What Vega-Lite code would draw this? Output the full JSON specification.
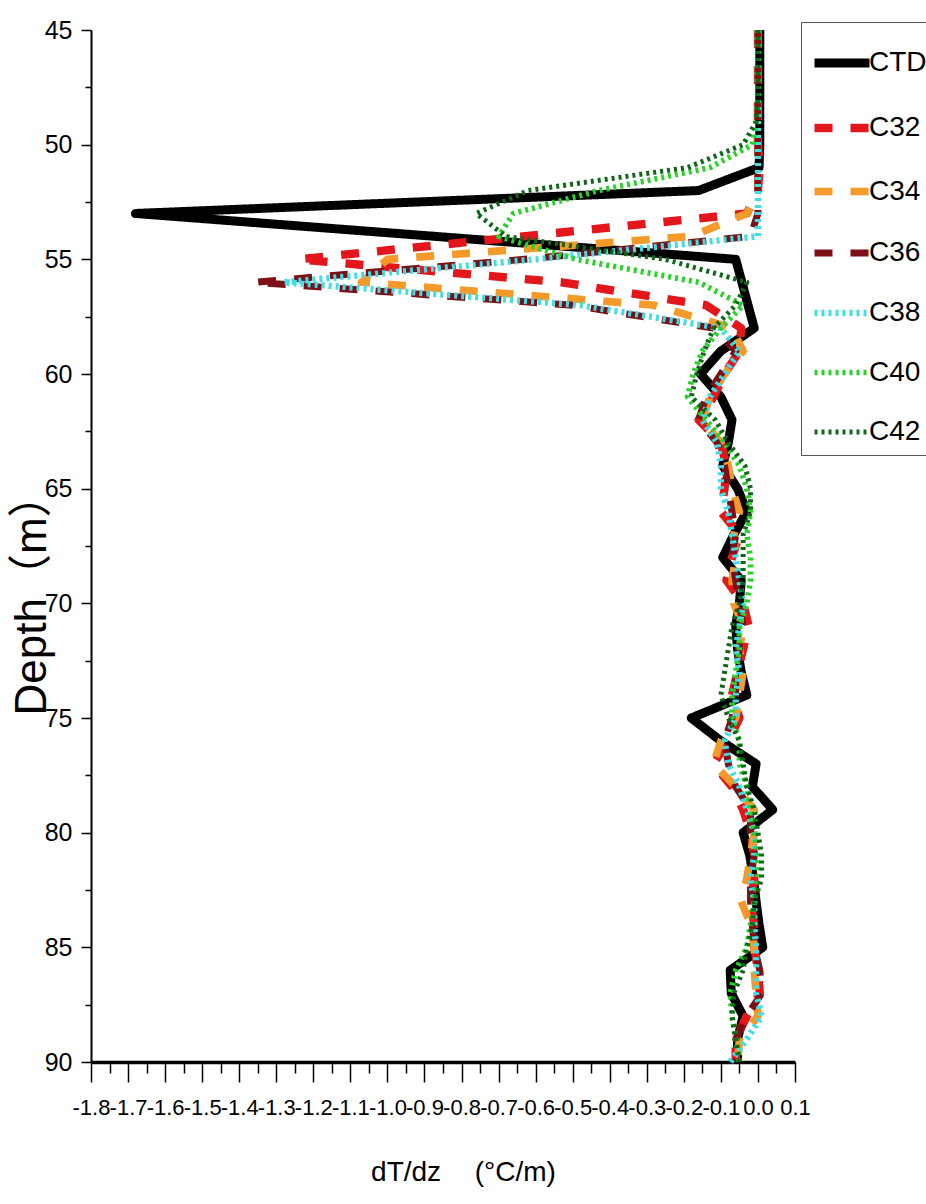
{
  "$schema": "https://vega.github.io/schema/vega-lite/v6.json",
  "width": 704,
  "height": 1032,
  "autosize": {"type": "none"},
  "padding": {"left": 91, "top": 30, "right": 131, "bottom": 142},
  "background": "white",
  "config": {
    "view": {"stroke": null},
    "font": "Liberation Sans, Arial, sans-serif"
  },
  "data": {
    "values": [
      {"s":"CTD","d":45,"v":0.005},{"s":"CTD","d":46,"v":0.005},{"s":"CTD","d":47,"v":0.005},{"s":"CTD","d":48,"v":0.005},{"s":"CTD","d":49,"v":0.005},{"s":"CTD","d":50,"v":0.005},{"s":"CTD","d":51,"v":0.003},{"s":"CTD","d":52,"v":-0.16},{"s":"CTD","d":53,"v":-1.68},{"s":"CTD","d":55,"v":-0.06},{"s":"CTD","d":58,"v":-0.01},{"s":"CTD","d":59,"v":-0.10},{"s":"CTD","d":60,"v":-0.155},{"s":"CTD","d":61,"v":-0.10},{"s":"CTD","d":62,"v":-0.07},{"s":"CTD","d":63,"v":-0.08},{"s":"CTD","d":64,"v":-0.095},{"s":"CTD","d":65,"v":-0.055},{"s":"CTD","d":66,"v":-0.03},{"s":"CTD","d":67,"v":-0.065},{"s":"CTD","d":68,"v":-0.095},{"s":"CTD","d":69,"v":-0.045},{"s":"CTD","d":70,"v":-0.05},{"s":"CTD","d":71,"v":-0.06},{"s":"CTD","d":72,"v":-0.055},{"s":"CTD","d":73,"v":-0.045},{"s":"CTD","d":74,"v":-0.03},{"s":"CTD","d":75,"v":-0.18},{"s":"CTD","d":76,"v":-0.10},{"s":"CTD","d":77,"v":-0.005},{"s":"CTD","d":78,"v":-0.015},{"s":"CTD","d":79,"v":0.04},{"s":"CTD","d":80,"v":-0.04},{"s":"CTD","d":81,"v":-0.022},{"s":"CTD","d":82,"v":-0.012},{"s":"CTD","d":83,"v":-0.005},{"s":"CTD","d":84,"v":0.003},{"s":"CTD","d":85,"v":0.013},{"s":"CTD","d":86,"v":-0.075},{"s":"CTD","d":87,"v":-0.072},{"s":"CTD","d":88,"v":-0.04},{"s":"CTD","d":89,"v":-0.055},{"s":"CTD","d":90,"v":-0.055},

      {"s":"C32","d":45,"v":0},{"s":"C32","d":46,"v":0},{"s":"C32","d":47,"v":0},{"s":"C32","d":48,"v":0},{"s":"C32","d":49,"v":0},{"s":"C32","d":50,"v":0},{"s":"C32","d":51,"v":0.005},{"s":"C32","d":52,"v":0},{"s":"C32","d":53,"v":-0.03},{"s":"C32","d":55,"v":-1.24},{"s":"C32","d":56,"v":-0.53},{"s":"C32","d":57,"v":-0.14},{"s":"C32","d":58,"v":-0.045},{"s":"C32","d":59,"v":-0.05},{"s":"C32","d":60,"v":-0.09},{"s":"C32","d":61,"v":-0.12},{"s":"C32","d":62,"v":-0.16},{"s":"C32","d":63,"v":-0.10},{"s":"C32","d":64,"v":-0.085},{"s":"C32","d":65,"v":-0.09},{"s":"C32","d":66,"v":-0.10},{"s":"C32","d":67,"v":-0.05},{"s":"C32","d":68,"v":-0.07},{"s":"C32","d":69,"v":-0.085},{"s":"C32","d":70,"v":-0.04},{"s":"C32","d":71,"v":-0.025},{"s":"C32","d":72,"v":-0.04},{"s":"C32","d":73,"v":-0.055},{"s":"C32","d":74,"v":-0.07},{"s":"C32","d":75,"v":-0.05},{"s":"C32","d":76,"v":-0.08},{"s":"C32","d":77,"v":-0.12},{"s":"C32","d":78,"v":-0.07},{"s":"C32","d":79,"v":-0.04},{"s":"C32","d":80,"v":-0.02},{"s":"C32","d":81,"v":-0.01},{"s":"C32","d":82,"v":-0.01},{"s":"C32","d":83,"v":-0.02},{"s":"C32","d":84,"v":-0.01},{"s":"C32","d":85,"v":-0.01},{"s":"C32","d":86,"v":0},{"s":"C32","d":87,"v":0.005},{"s":"C32","d":88,"v":-0.03},{"s":"C32","d":89,"v":-0.06},{"s":"C32","d":90,"v":-0.06},

      {"s":"C34","d":45,"v":0},{"s":"C34","d":46,"v":0},{"s":"C34","d":47,"v":0},{"s":"C34","d":48,"v":0},{"s":"C34","d":49,"v":0},{"s":"C34","d":50,"v":0},{"s":"C34","d":51,"v":0},{"s":"C34","d":52,"v":0},{"s":"C34","d":53,"v":-0.03},{"s":"C34","d":54,"v":-0.18},{"s":"C34","d":55,"v":-1.0},{"s":"C34","d":56,"v":-1.07},{"s":"C34","d":57,"v":-0.28},{"s":"C34","d":58,"v":-0.07},{"s":"C34","d":59,"v":-0.04},{"s":"C34","d":60,"v":-0.09},{"s":"C34","d":61,"v":-0.13},{"s":"C34","d":62,"v":-0.15},{"s":"C34","d":63,"v":-0.10},{"s":"C34","d":64,"v":-0.08},{"s":"C34","d":65,"v":-0.07},{"s":"C34","d":66,"v":-0.05},{"s":"C34","d":67,"v":-0.065},{"s":"C34","d":68,"v":-0.06},{"s":"C34","d":69,"v":-0.07},{"s":"C34","d":70,"v":-0.065},{"s":"C34","d":71,"v":-0.04},{"s":"C34","d":72,"v":-0.05},{"s":"C34","d":73,"v":-0.04},{"s":"C34","d":74,"v":-0.05},{"s":"C34","d":75,"v":-0.06},{"s":"C34","d":76,"v":-0.10},{"s":"C34","d":77,"v":-0.12},{"s":"C34","d":78,"v":-0.06},{"s":"C34","d":79,"v":-0.01},{"s":"C34","d":80,"v":-0.01},{"s":"C34","d":81,"v":-0.02},{"s":"C34","d":82,"v":-0.03},{"s":"C34","d":83,"v":-0.045},{"s":"C34","d":84,"v":-0.02},{"s":"C34","d":85,"v":-0.01},{"s":"C34","d":86,"v":-0.01},{"s":"C34","d":87,"v":-0.005},{"s":"C34","d":88,"v":0},{"s":"C34","d":89,"v":-0.05},{"s":"C34","d":90,"v":-0.055},

      {"s":"C36","d":45,"v":0},{"s":"C36","d":46,"v":0},{"s":"C36","d":47,"v":0},{"s":"C36","d":48,"v":0},{"s":"C36","d":49,"v":0},{"s":"C36","d":50,"v":0},{"s":"C36","d":51,"v":0},{"s":"C36","d":52,"v":0},{"s":"C36","d":53,"v":0},{"s":"C36","d":54,"v":-0.02},{"s":"C36","d":55,"v":-0.63},{"s":"C36","d":56,"v":-1.36},{"s":"C36","d":57,"v":-0.50},{"s":"C36","d":58,"v":-0.12},{"s":"C36","d":59,"v":-0.06},{"s":"C36","d":60,"v":-0.10},{"s":"C36","d":61,"v":-0.14},{"s":"C36","d":62,"v":-0.16},{"s":"C36","d":63,"v":-0.11},{"s":"C36","d":64,"v":-0.09},{"s":"C36","d":65,"v":-0.08},{"s":"C36","d":66,"v":-0.07},{"s":"C36","d":67,"v":-0.06},{"s":"C36","d":68,"v":-0.07},{"s":"C36","d":69,"v":-0.06},{"s":"C36","d":70,"v":-0.05},{"s":"C36","d":71,"v":-0.04},{"s":"C36","d":72,"v":-0.05},{"s":"C36","d":73,"v":-0.06},{"s":"C36","d":74,"v":-0.06},{"s":"C36","d":75,"v":-0.07},{"s":"C36","d":76,"v":-0.09},{"s":"C36","d":77,"v":-0.08},{"s":"C36","d":78,"v":-0.06},{"s":"C36","d":79,"v":-0.02},{"s":"C36","d":80,"v":-0.02},{"s":"C36","d":81,"v":-0.01},{"s":"C36","d":82,"v":-0.02},{"s":"C36","d":83,"v":-0.02},{"s":"C36","d":84,"v":-0.015},{"s":"C36","d":85,"v":-0.01},{"s":"C36","d":86,"v":0.005},{"s":"C36","d":87,"v":0.01},{"s":"C36","d":88,"v":-0.03},{"s":"C36","d":89,"v":-0.06},{"s":"C36","d":90,"v":-0.06},

      {"s":"C38","d":45,"v":0},{"s":"C38","d":46,"v":0},{"s":"C38","d":47,"v":0},{"s":"C38","d":48,"v":0},{"s":"C38","d":49,"v":0},{"s":"C38","d":50,"v":0},{"s":"C38","d":51,"v":0},{"s":"C38","d":52,"v":0},{"s":"C38","d":53,"v":0},{"s":"C38","d":54,"v":0},{"s":"C38","d":55,"v":-0.60},{"s":"C38","d":56,"v":-1.28},{"s":"C38","d":57,"v":-0.48},{"s":"C38","d":58,"v":-0.10},{"s":"C38","d":59,"v":-0.05},{"s":"C38","d":60,"v":-0.09},{"s":"C38","d":61,"v":-0.13},{"s":"C38","d":62,"v":-0.15},{"s":"C38","d":63,"v":-0.11},{"s":"C38","d":64,"v":-0.10},{"s":"C38","d":65,"v":-0.10},{"s":"C38","d":66,"v":-0.08},{"s":"C38","d":67,"v":-0.07},{"s":"C38","d":68,"v":-0.06},{"s":"C38","d":69,"v":-0.05},{"s":"C38","d":70,"v":-0.04},{"s":"C38","d":71,"v":-0.05},{"s":"C38","d":72,"v":-0.06},{"s":"C38","d":73,"v":-0.05},{"s":"C38","d":74,"v":-0.06},{"s":"C38","d":75,"v":-0.06},{"s":"C38","d":76,"v":-0.09},{"s":"C38","d":77,"v":-0.08},{"s":"C38","d":78,"v":-0.05},{"s":"C38","d":79,"v":-0.03},{"s":"C38","d":80,"v":-0.01},{"s":"C38","d":81,"v":-0.01},{"s":"C38","d":82,"v":-0.02},{"s":"C38","d":83,"v":-0.01},{"s":"C38","d":84,"v":-0.01},{"s":"C38","d":85,"v":-0.005},{"s":"C38","d":86,"v":-0.005},{"s":"C38","d":87,"v":-0.005},{"s":"C38","d":88,"v":0.01},{"s":"C38","d":89,"v":-0.03},{"s":"C38","d":90,"v":-0.075},

      {"s":"C40","d":45,"v":0},{"s":"C40","d":46,"v":0},{"s":"C40","d":47,"v":0},{"s":"C40","d":48,"v":0},{"s":"C40","d":49,"v":-0.005},{"s":"C40","d":50,"v":-0.015},{"s":"C40","d":51,"v":-0.13},{"s":"C40","d":52,"v":-0.43},{"s":"C40","d":53,"v":-0.66},{"s":"C40","d":54,"v":-0.70},{"s":"C40","d":55,"v":-0.49},{"s":"C40","d":56,"v":-0.16},{"s":"C40","d":57,"v":-0.04},{"s":"C40","d":58,"v":-0.10},{"s":"C40","d":59,"v":-0.15},{"s":"C40","d":60,"v":-0.175},{"s":"C40","d":61,"v":-0.19},{"s":"C40","d":62,"v":-0.14},{"s":"C40","d":63,"v":-0.09},{"s":"C40","d":64,"v":-0.05},{"s":"C40","d":65,"v":-0.03},{"s":"C40","d":66,"v":-0.02},{"s":"C40","d":67,"v":-0.03},{"s":"C40","d":68,"v":-0.02},{"s":"C40","d":69,"v":-0.02},{"s":"C40","d":70,"v":-0.03},{"s":"C40","d":71,"v":-0.05},{"s":"C40","d":72,"v":-0.05},{"s":"C40","d":73,"v":-0.06},{"s":"C40","d":74,"v":-0.07},{"s":"C40","d":75,"v":-0.07},{"s":"C40","d":76,"v":-0.05},{"s":"C40","d":77,"v":-0.05},{"s":"C40","d":78,"v":-0.03},{"s":"C40","d":79,"v":-0.02},{"s":"C40","d":80,"v":-0.01},{"s":"C40","d":81,"v":0},{"s":"C40","d":82,"v":0},{"s":"C40","d":83,"v":-0.01},{"s":"C40","d":84,"v":-0.02},{"s":"C40","d":85,"v":-0.03},{"s":"C40","d":86,"v":-0.06},{"s":"C40","d":87,"v":-0.075},{"s":"C40","d":88,"v":-0.07},{"s":"C40","d":89,"v":-0.06},{"s":"C40","d":90,"v":-0.05},

      {"s":"C42","d":45,"v":0},{"s":"C42","d":46,"v":0},{"s":"C42","d":47,"v":0},{"s":"C42","d":48,"v":0},{"s":"C42","d":49,"v":-0.005},{"s":"C42","d":50,"v":-0.04},{"s":"C42","d":51,"v":-0.19},{"s":"C42","d":52,"v":-0.62},{"s":"C42","d":53,"v":-0.76},{"s":"C42","d":54,"v":-0.68},{"s":"C42","d":55,"v":-0.25},{"s":"C42","d":56,"v":-0.03},{"s":"C42","d":57,"v":-0.06},{"s":"C42","d":58,"v":-0.12},{"s":"C42","d":59,"v":-0.145},{"s":"C42","d":60,"v":-0.165},{"s":"C42","d":61,"v":-0.18},{"s":"C42","d":62,"v":-0.115},{"s":"C42","d":63,"v":-0.08},{"s":"C42","d":64,"v":-0.035},{"s":"C42","d":65,"v":-0.02},{"s":"C42","d":66,"v":-0.02},{"s":"C42","d":67,"v":-0.04},{"s":"C42","d":68,"v":-0.04},{"s":"C42","d":69,"v":-0.04},{"s":"C42","d":70,"v":-0.05},{"s":"C42","d":71,"v":-0.07},{"s":"C42","d":72,"v":-0.08},{"s":"C42","d":73,"v":-0.09},{"s":"C42","d":74,"v":-0.10},{"s":"C42","d":75,"v":-0.08},{"s":"C42","d":76,"v":-0.05},{"s":"C42","d":77,"v":-0.04},{"s":"C42","d":78,"v":-0.03},{"s":"C42","d":79,"v":-0.01},{"s":"C42","d":80,"v":0},{"s":"C42","d":81,"v":0.01},{"s":"C42","d":82,"v":0.01},{"s":"C42","d":83,"v":-0.01},{"s":"C42","d":84,"v":-0.015},{"s":"C42","d":85,"v":-0.03},{"s":"C42","d":86,"v":-0.04},{"s":"C42","d":87,"v":-0.065},{"s":"C42","d":88,"v":-0.07},{"s":"C42","d":89,"v":-0.06},{"s":"C42","d":90,"v":-0.05}
    ]
  },
  "mark": {"type": "line", "strokeCap": "butt", "strokeJoin": "round"},
  "encoding": {
    "x": {
      "field": "v",
      "type": "quantitative",
      "scale": {"domain": [-1.8, 0.1], "nice": false, "zero": false},
      "axis": {
        "values": [-1.8,-1.75,-1.7,-1.65,-1.6,-1.55,-1.5,-1.45,-1.4,-1.35,-1.3,-1.25,-1.2,-1.15,-1.1,-1.05,-1.0,-0.95,-0.9,-0.85,-0.8,-0.75,-0.7,-0.65,-0.6,-0.55,-0.5,-0.45,-0.4,-0.35,-0.3,-0.25,-0.2,-0.15,-0.1,-0.05,0,0.05,0.1],
        "labelExpr": "abs(round(datum.value*100)) % 10 == 0 ? replace(format(datum.value, '.1f'), '\u2212', '-') : ''",
        "tickSize": {"condition": {"test": "abs(round(datum.value*100)) % 10 == 0", "value": 20}, "value": 11},
        "tickColor": "black",
        "tickWidth": 1.5,
        "domainColor": "black",
        "domainWidth": 3.5,
        "grid": false,
        "labelFont": "Liberation Sans, Arial, sans-serif",
        "labelFontSize": 22,
        "labelColor": "black",
        "labelPadding": 15,
        "labelOverlap": false,
        "labelFlush": false,
        "labelBound": false,
        "title": "dT/dz\u2003\u2009(°C/m)",
        "titleFont": "Liberation Sans, Arial, sans-serif",
        "titleFontSize": 28,
        "titleFontWeight": "normal",
        "titleColor": "black",
        "titleX": 372,
        "titleY": 110,
        "titleAlign": "center",
        "titleBaseline": "middle"
      }
    },
    "y": {
      "field": "d",
      "type": "quantitative",
      "scale": {"domain": [45, 90], "reverse": true, "nice": false, "zero": false},
      "axis": {
        "values": [45,47.5,50,52.5,55,57.5,60,62.5,65,67.5,70,72.5,75,77.5,80,82.5,85,87.5,90],
        "labelExpr": "datum.value % 5 == 0 ? format(datum.value, 'd') : ''",
        "tickSize": {"condition": {"test": "datum.value % 5 == 0", "value": 10}, "value": 6},
        "tickColor": "black",
        "tickWidth": 1.5,
        "domainColor": "black",
        "domainWidth": 2,
        "grid": false,
        "labelFont": "Liberation Sans, Arial, sans-serif",
        "labelFontSize": 25,
        "labelColor": "black",
        "labelPadding": 9,
        "labelOverlap": false,
        "labelFlush": false,
        "title": "Depth（m）",
        "titleFont": "Liberation Sans, Noto Sans CJK SC, sans-serif",
        "titleFontSize": 44,
        "titleFontWeight": "normal",
        "titleColor": "black",
        "titleAngle": 270,
        "titleX": -59,
        "titleY": 564,
        "titleAlign": "center",
        "titleBaseline": "middle"
      }
    },
    "order": {"field": "d", "type": "quantitative"},
    "color": {
      "field": "s",
      "type": "nominal",
      "scale": {
        "domain": ["CTD","C32","C34","C36","C38","C40","C42"],
        "range": ["#000000","#e3161b","#f39a2a","#7b1016","#3fdde6","#28d22a","#11661c"]
      },
      "legend": {
        "orient": "none",
        "legendX": 710,
        "legendY": -8,
        "title": null,
        "symbolType": "stroke",
        "symbolSize": 3025,
        "labelFont": "Liberation Sans, Arial, sans-serif",
        "labelFontSize": 28,
        "labelColor": "black",
        "labelOffset": -5,
        "labelLimit": 0,
        "rowPadding": 15,
        "padding": 9,
        "strokeColor": "#555555"
      }
    },
    "strokeDash": {
      "field": "s",
      "type": "nominal",
      "scale": {
        "domain": ["CTD","C32","C34","C36","C38","C40","C42"],
        "range": [[1,0],[18,18],[18,18],[18,18],[3,4],[3,4],[3,4]]
      }
    },
    "strokeWidth": {
      "field": "s",
      "type": "nominal",
      "scale": {
        "domain": ["CTD","C32","C34","C36","C38","C40","C42"],
        "range": [9,5,5,5,4,4,4]
      }
    }
  }
}
